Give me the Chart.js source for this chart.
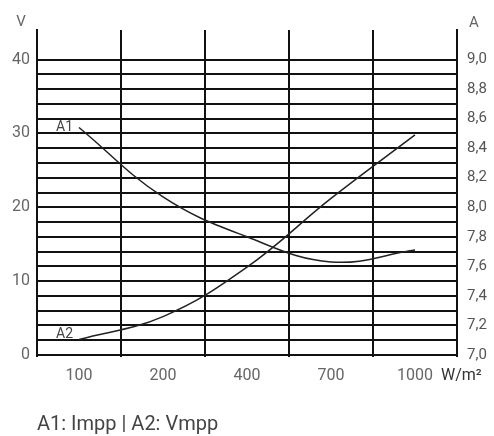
<!DOCTYPE html>
<html>
<head>
<meta charset="utf-8">
<script src="https://cdn.jsdelivr.net/npm/chart.js@4"></script>
<style>
  body { margin: 0; background: #fff; }
  canvas { display: block; }
</style>
</head>
<body>
<canvas id="chart" width="494" height="436"></canvas>
<script>
const ctx = document.querySelector('#chart')

// irradiance categories (W/m²)
const irradiance = ['100', '200', '400', '700', '1000']
// A1: Impp in A (right axis)
const imppA = [8.54, 8.07, 7.80, 7.63, 7.71]
// A2: Vmpp in V (left axis)
const vmppV = [2.1, 5.2, 11.9, 21.2, 29.8]
// grid / tick values
const voltTicks = [0, 2, 4, 6, 8, 10, 12, 14, 16, 18, 20, 22, 24, 26, 28, 30, 32, 34, 36, 38, 40]
const ampTicks = [7.0, 7.1, 7.2, 7.3, 7.4, 7.5, 7.6, 7.7, 7.8, 7.9, 8.0, 8.1, 8.2, 8.3, 8.4, 8.5, 8.6, 8.7, 8.8, 8.9, 9.0]

const gridColor = '#111'
const font = 'Roboto'

const textPlugin = {
    id: 'texts',
    afterDraw(chart) {
        const c = chart.ctx
        const x = chart.scales.x
        const yL = chart.scales.yL
        const yR = chart.scales.yR
        c.save()
        c.textBaseline = 'middle'

        c.fillStyle = '#666'
        c.font = '15px ' + font
        c.textAlign = 'center'
        c.fillText('V', 21, 22)
        c.fillText('A', 474, 23)

        c.fillStyle = '#333'
        c.font = '16px ' + font
        c.textAlign = 'left'
        c.fillText('W/m²', 441, 376)

        c.fillStyle = '#444'
        c.font = '20px ' + font
        c.fillText('A1: Impp | A2: Vmpp', 37, 425)

        c.font = '14px ' + font
        c.textAlign = 'right'
        c.fillText('A1', x.getPixelForValue(0) - 6, yR.getPixelForValue(imppA[0]))
        c.fillText('A2', x.getPixelForValue(0) - 6, yL.getPixelForValue(vmppV[0]) - 5)
        c.restore()
    }
}

const data = {
    labels: irradiance,
    datasets: [{
        label: 'A1: Impp',
        data: imppA,
        yAxisID: 'yR',
        borderColor: '#222',
        borderWidth: 1.5,
        pointRadius: 0,
        tension: 0.4
    }, {
        label: 'A2: Vmpp',
        data: vmppV,
        yAxisID: 'yL',
        borderColor: '#222',
        borderWidth: 1.5,
        pointRadius: 0,
        tension: 0.4
    }]
}

const config = {
    type: 'line',
    data: data,
    plugins: [textPlugin],
    options: {
        responsive: false,
        animation: false,
        layout: {
            padding: { top: 30, left: 0, right: 0, bottom: 0 }
        },
        scales: {
            x: {
                offset: true,
                grid: {
                    offset: true,
                    color: gridColor,
                    lineWidth: 2,
                    tickLength: 2
                },
                border: { color: gridColor, width: 2 },
                ticks: {
                    color: '#666',
                    font: { family: font, size: 16 },
                    padding: 9,
                    maxRotation: 0
                },
                afterFit(scale) {
                    scale.height = 81
                }
            },
            yL: {
                position: 'left',
                min: 0,
                max: 44,
                afterBuildTicks(scale) {
                    scale.ticks = voltTicks.map(v => ({ value: v }))
                },
                grid: {
                    color: gridColor,
                    lineWidth: 2,
                    drawTicks: false
                },
                border: { color: gridColor, width: 2 },
                ticks: {
                    autoSkip: false,
                    color: '#666',
                    font: { family: font, size: 16 },
                    padding: 7,
                    callback: value => value % 10 === 0 ? value : ''
                },
                afterFit(scale) {
                    scale.width = 37
                }
            },
            yR: {
                position: 'right',
                min: 7.0,
                max: 9.2,
                afterBuildTicks(scale) {
                    scale.ticks = ampTicks.map(v => ({ value: v }))
                },
                grid: {
                    display: false,
                    drawTicks: false
                },
                border: { color: gridColor, width: 2 },
                ticks: {
                    autoSkip: false,
                    color: '#555',
                    font: { family: font, size: 15 },
                    padding: 10,
                    callback: value => Math.round(value * 10) % 2 === 0 ? value.toFixed(1).replace('.', ',') : ''
                },
                afterFit(scale) {
                    scale.width = 37
                }
            }
        },
        plugins: {
            legend: { display: false },
            tooltip: { enabled: false }
        }
    }
}

new Chart(ctx, config)
</script>
</body>
</html>
